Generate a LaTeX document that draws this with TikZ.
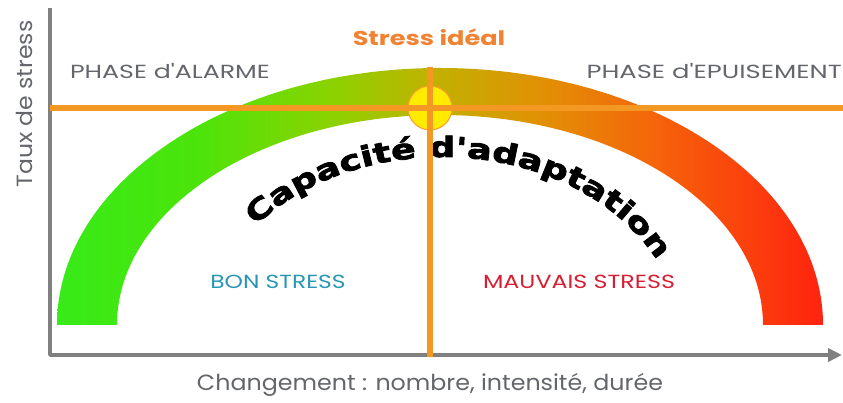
\documentclass[tikz,border=0pt]{standalone}
\usepackage{fontspec}
\setmainfont{Poppins}
\newfontfamily\lblfont{Poppins}
\newfontfamily\heavyfont{DejaVu Sans}[BoldFeatures={FakeBold=3,FakeStretch=1.3}]
\usetikzlibrary{decorations.text,arrows.meta}
\definecolor{axisgray}{RGB}{128,128,128}
\definecolor{txtgray}{RGB}{100,102,108}
\definecolor{lineorange}{RGB}{243,152,35}
\definecolor{idealorange}{RGB}{240,130,50}
\definecolor{sunyellow}{RGB}{255,235,0}
\definecolor{bonblue}{RGB}{40,150,180}
\definecolor{mauvred}{RGB}{215,30,50}
\definecolor{ca}{RGB}{55,235,25}
\definecolor{cb}{RGB}{75,228,10}
\definecolor{cc}{RGB}{140,210,0}
\definecolor{cd}{RGB}{190,180,0}
\definecolor{ce}{RGB}{225,145,5}
\definecolor{cf}{RGB}{245,100,10}
\definecolor{cg}{RGB}{255,35,15}
\pgfdeclarehorizontalshading{archshade}{100bp}{color(0bp)=(ca); color(25bp)=(ca); color(34bp)=(cb); color(43bp)=(cc); color(49bp)=(cd); color(56.5bp)=(ce); color(64bp)=(cf); color(75bp)=(cg); color(100bp)=(cg)}
\newcommand{\capfont}{\heavyfont\bfseries\fontsize{28}{34}\selectfont}
\newcommand{\wide}[2]{\scalebox{#1}[1]{#2}}
\tikzset{
  lbl/.style={font=\lblfont\fontsize{#1}{#1}\selectfont, inner sep=0pt},
  axisline/.style={draw=axisgray, line width=3.5pt, line join=round},
  crossline/.style={draw=lineorange, line width=6pt},
}
\begin{document}
\begin{tikzpicture}[x=1pt,y=1pt]
\useasboundingbox (0,0) rectangle (843,403);
% arch
\shade[shading=archshade] (57,78) arc[start angle=180,end angle=0,x radius=383,y radius=257]
  -- (763,78) arc[start angle=0,end angle=180,x radius=323,y radius=210] -- cycle;
% text along arc
\path[decorate, decoration={text along path, text={|\capfont|Capacité d'adaptation}, text align=center}]
  (442,60) ++(147:240 and 186) arc[start angle=147, end angle=20, x radius=240, y radius=186];
% axes
\coordinate (ytop) at (50,395);
\coordinate (origin) at (50,48);
\coordinate (xend) at (842,48);
\draw[axisline, -{Triangle[length=14pt,width=13pt]}] (ytop) -- (origin) -- (xend);
% ideal point
\node[circle, fill=sunyellow, draw=orange!80, line width=1pt, minimum size=44pt, inner sep=0pt] (sun) at (430,295) {};
\coordinate (hl) at (50,295);
\coordinate (hr) at (843,295);
\coordinate (vt) at (430,336);
\coordinate (vb) at (430,46);
\draw[crossline] (hl) -- (hr);
\draw[crossline] (vt) -- (vb);
% labels
\node[lbl=20, text=idealorange, font=\lblfont\bfseries\fontsize{20}{20}\selectfont] (ideal) at (429,366) {\wide{1.28}{Stress idéal}};
\node[lbl=19, text=txtgray] (alarme) at (170,332) {\wide{1.33}{PHASE d'ALARME}};
\node[lbl=19, text=txtgray, anchor=east] (epuis) at (842,332) {\wide{1.36}{PHASE d'EPUISEMENT}};
\node[lbl=19, text=bonblue] (bon) at (278,121) {\wide{1.23}{BON STRESS}};
\node[lbl=19, text=mauvred] (mauvais) at (579,121) {\wide{1.25}{MAUVAIS STRESS}};
\node[lbl=22, text=txtgray, rotate=90] (taux) at (24,299) {\wide{1.07}{Taux de stress}};
\node[lbl=22, text=txtgray] (chg) at (430,18) {\wide{1.08}{Changement : nombre, intensité, durée}};
\end{tikzpicture}
\end{document}
